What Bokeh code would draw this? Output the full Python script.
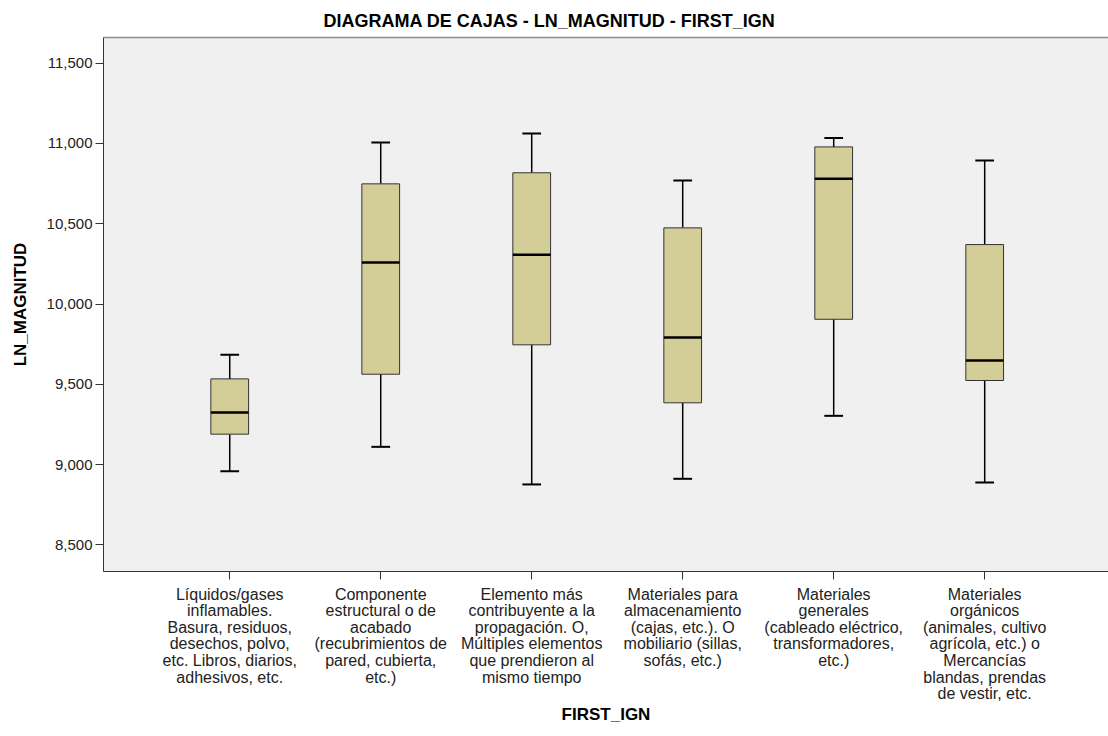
from bokeh.plotting import figure
from bokeh.models import (ColumnDataSource, Range1d, FixedTicker, LinearAxis,
                          CustomJSTickFormatter)
from bokeh.embed import file_html
from bokeh.resources import INLINE

# Categories of FIRST_IGN (tick labels, wrapped as in the axis)
categories = [
    "Líquidos/gases\ninflamables.\nBasura, residuos,\ndesechos, polvo,\netc. Libros, diarios,\nadhesivos, etc.",
    "Componente\nestructural o de\nacabado\n(recubrimientos de\npared, cubierta,\netc.)",
    "Elemento más\ncontribuyente a la\npropagación. O,\nMúltiples elementos\nque prendieron al\nmismo tiempo",
    "Materiales para\nalmacenamiento\n(cajas, etc.). O\nmobiliario (sillas,\nsofás, etc.)",
    "Materiales\ngenerales\n(cableado eléctrico,\ntransformadores,\netc.)",
    "Materiales\norgánicos\n(animales, cultivo\nagrícola, etc.) o\nMercancías\nblandas, prendas\nde vestir, etc.",
]

# Box-plot statistics of LN_MAGNITUD per category
whisker_low = [8.959, 9.111, 8.877, 8.912, 9.304, 8.889]
q1 = [9.190, 9.563, 9.746, 9.385, 9.905, 9.524]
median = [9.325, 10.258, 10.306, 9.791, 10.779, 9.648]
q3 = [9.534, 10.748, 10.817, 10.474, 10.978, 10.370]
whisker_high = [9.684, 11.005, 11.061, 10.769, 11.034, 10.893]

y_ticks = [8.5, 9.0, 9.5, 10.0, 10.5, 11.0, 11.5]

pos = list(range(len(categories)))
box_w = 0.25
cap_w = 0.124

src = ColumnDataSource(dict(
    x=pos,
    x0=[i - box_w / 2 for i in pos], x1=[i + box_w / 2 for i in pos],
    c0=[i - cap_w / 2 for i in pos], c1=[i + cap_w / 2 for i in pos],
    low=whisker_low, q1=q1, med=median, q3=q3, high=whisker_high,
))

FONT = "Liberation Sans"

p = figure(width=1108, height=736, output_backend="svg", toolbar_location=None,
           x_range=Range1d(-0.836, 5.82), y_range=Range1d(8.335, 11.659),
           min_border_left=103, min_border_right=0, min_border_top=37,
           min_border_bottom=165)

p.background_fill_color = "#f0f0f0"
p.border_fill_color = "white"
p.outline_line_color = None
p.xgrid.visible = False
p.ygrid.visible = False

xa = p.below[0]
ya = p.left[0]

# title
p.title.text = "DIAGRAMA DE CAJAS  - LN_MAGNITUD - FIRST_IGN"
p.title.align = "left"
p.title.offset = 220
p.title.standoff = 14
p.title.text_font = FONT
p.title.text_font_style = "bold"
p.title.text_font_size = "18px"
p.title.text_color = "black"

# top frame line
top = LinearAxis(ticker=FixedTicker(ticks=[]), major_tick_out=0, major_tick_in=0,
                 major_label_standoff=0, major_label_text_font_size="0px",
                 minor_tick_out=0, minor_tick_in=0,
                 axis_line_color="#8a8a8a", axis_line_width=1.5)
p.add_layout(top, "above")

# y axis
ya.ticker = FixedTicker(ticks=y_ticks)
ya.formatter = CustomJSTickFormatter(code="return tick.toFixed(3).replace('.', ',');")
ya.axis_label = "LN_MAGNITUD"
ya.axis_label_text_font = FONT
ya.axis_label_text_font_style = "bold"
ya.axis_label_text_font_size = "17px"
ya.axis_label_text_color = "black"
ya.axis_label_standoff = 14
ya.major_label_text_font = FONT
ya.major_label_text_font_size = "15px"
ya.major_label_text_color = "#222222"
ya.major_tick_out = 8
ya.major_tick_in = 0
ya.minor_tick_line_color = None
ya.axis_line_color = "#333333"
ya.major_tick_line_color = "#333333"
ya.major_label_standoff = 3

# x axis
xa.ticker = FixedTicker(ticks=pos)
xa.major_label_overrides = {i: c for i, c in zip(pos, categories)}
xa.axis_label = "FIRST_IGN"
xa.axis_label_text_font = FONT
xa.axis_label_text_font_style = "bold"
xa.axis_label_text_font_size = "17px"
xa.axis_label_text_color = "black"
xa.axis_label_standoff = 0
xa.major_label_text_font = FONT
xa.major_label_text_font_size = "16px"
xa.major_label_text_line_height = 0.98
xa.major_label_text_color = "#222222"
xa.major_tick_out = 8
xa.major_tick_in = 0
xa.minor_tick_line_color = None
xa.axis_line_color = "#333333"
xa.major_tick_line_color = "#333333"
xa.major_label_standoff = 6

# whiskers
p.segment(x0="x", y0="q3", x1="x", y1="high", source=src, line_color="black", line_width=1.5)
p.segment(x0="x", y0="q1", x1="x", y1="low", source=src, line_color="black", line_width=1.5)
# caps
p.segment(x0="c0", y0="high", x1="c1", y1="high", source=src, line_color="black", line_width=2)
p.segment(x0="c0", y0="low", x1="c1", y1="low", source=src, line_color="black", line_width=2)
# boxes
p.vbar(x="x", width=box_w, bottom="q1", top="q3", source=src,
       fill_color="#d3ce97", line_color="#333333", line_width=1)
# medians
p.segment(x0="x0", y0="med", x1="x1", y1="med", source=src, line_color="black", line_width=2.5)

open("out.html", "w").write(file_html(p, INLINE))
